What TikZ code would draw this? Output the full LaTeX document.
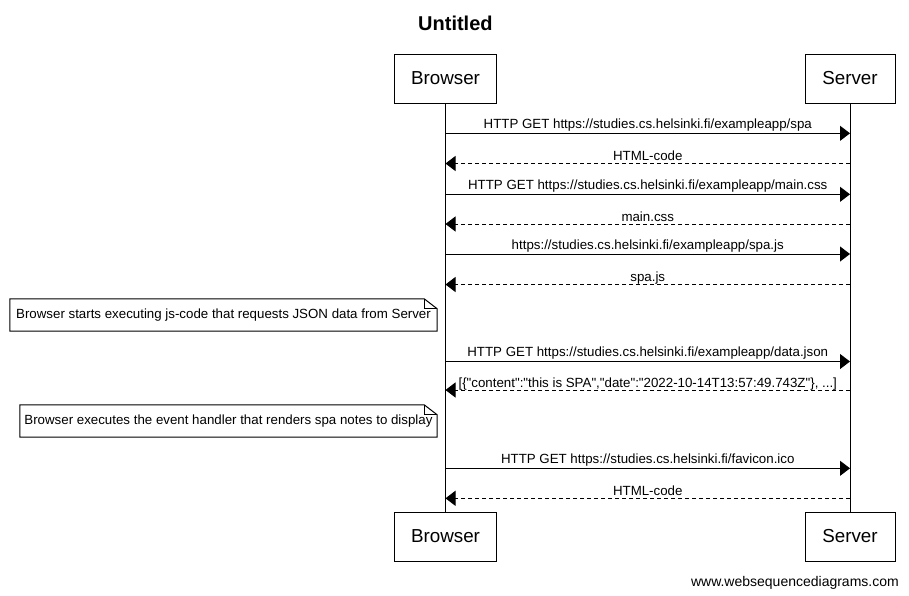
\documentclass[tikz,border=0pt]{standalone}
\usepackage{fontspec}
\setmainfont{Liberation Sans}[Ligatures=TeXOff]

\usetikzlibrary{arrows.meta,calc}

\tikzset{
  actor/.style={draw, line width=1pt, inner sep=0pt, minimum height=49pt,
    font=\fontsize{18.8}{22}\selectfont},
  life/.style={line width=1pt},
  req/.style={line width=1pt, -{Triangle[length=10pt,width=15pt]}},
  resp/.style={req, dash pattern=on 4pt off 3pt},
  lbl/.style={anchor=base, yshift=5pt, inner sep=0pt,
    font=\fontsize{13.3}{15}\selectfont},
  rlbl/.style={lbl, yshift=-2pt},
  notebox/.style={inner sep=0pt, minimum height=32pt,
    font=\fontsize{13.3}{15}\selectfont},
  notelines/.style={line width=1pt, line join=miter},
}

\begin{document}
\begin{tikzpicture}[x=1pt,y=-1pt]
\useasboundingbox (0,0) rectangle (909,595);

% title
\node[anchor=base, inner sep=0pt, font=\fontsize{20}{24}\selectfont\bfseries]
  (title) at (455.4,30) {Untitled};

% participants, top and bottom
\node[actor, minimum width=102pt] (bt) at (445.5,78.5) {Browser};
\node[actor, minimum width=90pt]  (st) at (850,78.5)   {Server};
\node[actor, minimum width=102pt] (bb) at (445.5,536.5) {Browser};
\node[actor, minimum width=90pt]  (sb) at (850,536.5)   {Server};

% lifelines
\draw[life] (bt.south) -- (bb.north);
\draw[life] (st.south) -- (sb.north);

% message anchor points on both lifelines
\foreach \i/\y in {1/133.3,2/163.5,3/194.3,4/224,5/254,6/284.5,7/361.5,8/390,9/468.3,10/498.3}{
  \coordinate (b\i) at (445.5,\y);
  \coordinate (s\i) at (850,\y);
}

\draw[req]  (b1) -- node[lbl] {HTTP GET https://studies.cs.helsinki.fi/exampleapp/spa} (s1);
\draw[resp] (s2) -- node[rlbl] {HTML-code} (b2);
\draw[req]  (b3) -- node[lbl] {HTTP GET https://studies.cs.helsinki.fi/exampleapp/main.css} (s3);
\draw[resp] (s4) -- node[rlbl] {main.css} (b4);
\draw[req]  (b5) -- node[lbl] {https://studies.cs.helsinki.fi/exampleapp/spa.js} (s5);
\draw[resp] (s6) -- node[rlbl] {spa.js} (b6);
\draw[req]  (b7) -- node[lbl] {HTTP GET https://studies.cs.helsinki.fi/exampleapp/data.json} (s7);
\draw[resp] (s8) -- node[rlbl] {[\{"content":"this is SPA","date":"2022-10-14T13:57:49.743Z"\}, ...]} (b8);
\draw[req]  (b9) -- node[lbl] {HTTP GET https://studies.cs.helsinki.fi/favicon.ico} (s9);
\draw[resp] (s10) -- node[rlbl] {HTML-code} (b10);

% notes
\node[notebox, minimum width=427pt] (n1) at (223.5,315)
  {Browser starts executing js-code that requests JSON data from Server};
\node[notebox, minimum width=417pt] (n2) at (228.5,421)
  {Browser executes the event handler that renders spa notes to display};
\foreach \n in {n1,n2}{
  \draw[notelines] (\n.north west) -- ($(\n.north east)+(-13,0)$)
    -- ($(\n.north east)+(0,10)$) -- (\n.south east) -- (\n.south west) -- cycle;
  \draw[notelines] ($(\n.north east)+(-13,0)$) -- ($(\n.north east)+(-13,10)$)
    -- ($(\n.north east)+(0,10)$);
}

% footer
\node[anchor=base east, inner sep=0pt, font=\fontsize{14}{16}\selectfont]
  (footer) at (899,586) {www.websequencediagrams.com};
\end{tikzpicture}
\end{document}
